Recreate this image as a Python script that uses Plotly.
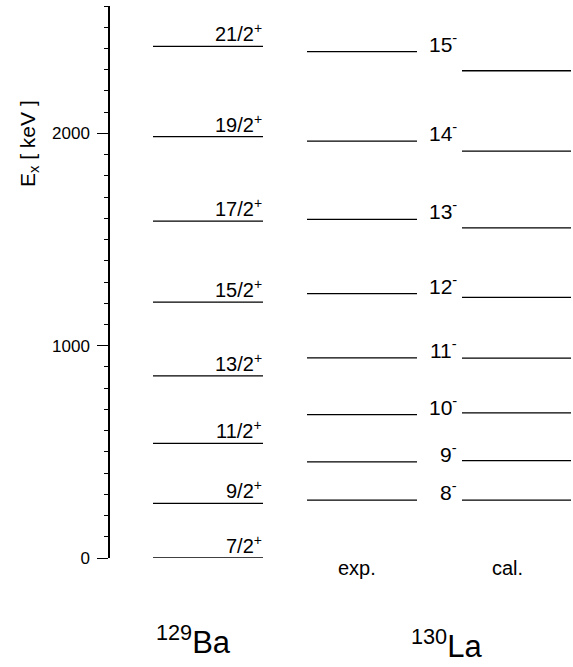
import plotly.graph_objects as go

# ---- data (keV) ----
ba_spins = ["7/2", "9/2", "11/2", "13/2", "15/2", "17/2", "19/2", "21/2"]
ba_energy = [0, 257, 540, 858, 1205, 1587, 1985, 2410]

la_spins = ["8", "9", "10", "11", "12", "13", "14", "15"]
la_exp = [273, 453, 675, 943, 1245, 1595, 1964, 2385]
la_cal = [273, 459, 684, 941, 1228, 1555, 1916, 2295]

y_ticks = [0, 1000, 2000]

# ---- layout constants (pixels) ----
FONT = "Arial, Liberation Sans, sans-serif"
W, H = 573, 667
L_MARGIN = 110
TOP_PX, BOT_PX = 6, 558
X_RANGE = W - L_MARGIN
BA_X = (43, 153)
EXP_X = (197, 307)
CAL_X = (352, 461)
LA_LABEL_X = 349


def px_x(px):
    return (px - L_MARGIN) / (W - L_MARGIN)


def px_y(py):
    return (BOT_PX - py) / (BOT_PX - TOP_PX)


def segs(x0x1, ys):
    xs, yy = [], []
    for y in ys:
        xs += [x0x1[0], x0x1[1], None]
        yy += [y, y, None]
    return xs, yy


fig = go.Figure()
for xr, ys in [(BA_X, ba_energy), (EXP_X, la_exp), (CAL_X, la_cal)]:
    xs, yy = segs(xr, ys)
    fig.add_trace(go.Scatter(x=xs, y=yy, mode="lines",
                             line=dict(color="black", width=1.3),
                             hoverinfo="skip", showlegend=False))

ann = []
for s, e in zip(ba_spins, ba_energy):
    ann.append(dict(x=BA_X[1] + 1, y=e, xref="x", yref="y", text=f"{s}<sup>+</sup>",
                    showarrow=False, xanchor="right", yanchor="bottom", yshift=-1,
                    font=dict(family=FONT, size=20, color="black")))
for s, e in zip(la_spins, la_exp):
    ann.append(dict(x=LA_LABEL_X, y=e, xref="x", yref="y", text=f"{s}<sup>-</sup>",
                    showarrow=False, xanchor="right", yanchor="bottom", yshift=-6,
                    font=dict(family=FONT, size=21, color="black")))

ann += [
    dict(x=px_x(357), y=px_y(568), xref="paper", yref="paper", text="exp.", showarrow=False,
         xanchor="center", yanchor="middle", font=dict(family=FONT, size=20, color="black")),
    dict(x=px_x(507), y=px_y(568), xref="paper", yref="paper", text="cal.", showarrow=False,
         xanchor="center", yanchor="middle", font=dict(family=FONT, size=20, color="black")),
    dict(x=px_x(193), y=px_y(640), xref="paper", yref="paper", text="<sup>129</sup>Ba",
         showarrow=False, xanchor="center", yanchor="middle",
         font=dict(family=FONT, size=31, color="black")),
    dict(x=px_x(446), y=px_y(644), xref="paper", yref="paper", text="<sup>130</sup>La",
         showarrow=False, xanchor="center", yanchor="middle",
         font=dict(family=FONT, size=31, color="black")),
    dict(x=px_x(29), y=px_y(144), xref="paper", yref="paper", text="E<sub>x</sub> [ keV ]",
         showarrow=False, textangle=-90, xanchor="center", yanchor="middle",
         font=dict(family=FONT, size=21, color="black")),
]

fig.update_layout(
    width=W, height=H,
    margin=dict(l=L_MARGIN, r=0, t=TOP_PX, b=H - BOT_PX),
    paper_bgcolor="white", plot_bgcolor="white",
    annotations=ann,
    xaxis=dict(range=[0, X_RANGE], visible=False, fixedrange=True),
    yaxis=dict(range=[0, 2600], tickvals=y_ticks, ticks="outside", ticklen=11,
               tickwidth=1.3, tickcolor="black", showline=True, linecolor="black",
               linewidth=1.5, showgrid=False, zeroline=False,
               ticklabelstandoff=4, fixedrange=True,
               tickfont=dict(family=FONT, size=17, color="black"),
               minor=dict(dtick=100, tick0=0, ticks="outside", ticklen=4,
                          tickwidth=1.2, tickcolor="black", showgrid=False)),
)

fig.write_html("out.html", config={"displayModeBar": False},
               post_script="document.body.style.margin='0px';document.body.style.overflow='hidden';")
